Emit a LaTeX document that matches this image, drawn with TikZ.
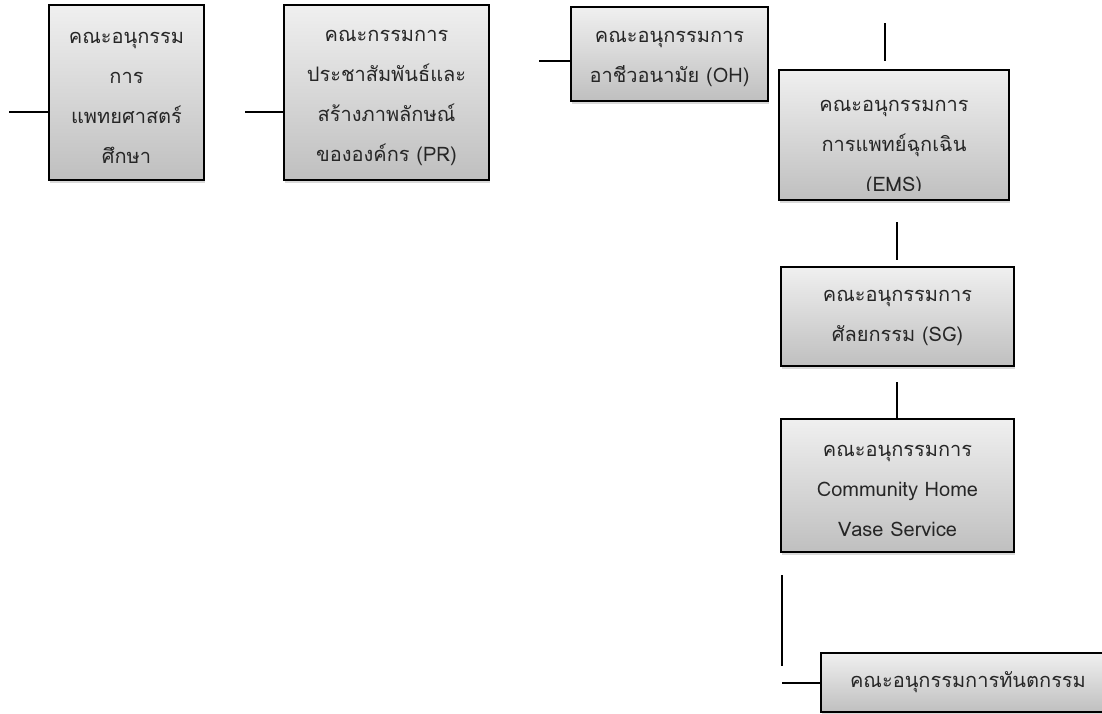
\documentclass[tikz,border=0pt]{standalone}
\usepackage{fontspec}
\newfontfamily\thaifont[Script=Thai]{Loma}
\usetikzlibrary{shadows}
\tikzset{
  unit/.style={draw=black,line width=1.6pt,inner sep=0pt,top color=gray!12,bottom color=gray!50,
    drop shadow={shadow xshift=1pt,shadow yshift=-3pt,opacity=0.3}},
  unittext/.style={align=center,text=black!85,font=\thaifont\fontsize{20}{40}\selectfont,yshift=-5pt},
  link/.style={line width=2.2pt,draw=black}
}
\begin{document}
\begin{tikzpicture}[x=1pt,y=-1pt]
  \useasboundingbox (0,0) rectangle (1102,713);
  \clip (0,0) rectangle (1102,713);

  % top row
  \node[unit,minimum width=155pt,minimum height=175pt] (med) at (126.5,92.5) {};
  \node[unittext] (medT) at (med) {คณะอนุกรรม\\การ\\แพทยศาสตร์\\ศึกษา};
  \node[unit,minimum width=205pt,minimum height=175pt] (pr) at (386.5,92.5) {};
  \node[unittext] (prT) at (pr) {คณะกรรมการ\\ประชาสัมพันธ์และ\\สร้างภาพลักษณ์\\ขององค์กร (PR)};
  \node[unit,minimum width=197pt,minimum height=94pt] (oh) at (669.5,54) {};
  \node[unittext] (ohT) at (oh) {คณะอนุกรรมการ\\อาชีวอนามัย (OH)};

  % right column
  \node[unit,minimum width=230pt,minimum height=130pt] (ems) at (894,135) {};
  \begin{scope}
    \clip (ems.north west) rectangle ([yshift=10pt]ems.south east);
    \node[unittext,yshift=-8pt] (emsT) at (ems) {คณะอนุกรรมการ\\การแพทย์ฉุกเฉิน\\(EMS)};
  \end{scope}
  \node[unit,minimum width=233pt,minimum height=99pt] (sg) at (897.5,316.5) {};
  \node[unittext,yshift=4pt] (sgT) at (sg) {คณะอนุกรรมการ\\ศัลยกรรม (SG)};
  \node[unit,minimum width=233pt,minimum height=133pt] (chv) at (897.5,485.5) {};
  \node[unittext] (chvT) at (chv) {คณะอนุกรรมการ\\Community Home\\Vase Service};
  \node[unit,minimum width=294pt,minimum height=59pt] (dent) at (968,682.5) {};
  \node[unittext,yshift=5pt] (dentT) at (dent) {คณะอนุกรรมการทันตกรรม};

  % connectors
  \coordinate (medL) at (9,112);
  \coordinate (prL) at (245,112);
  \coordinate (ohL) at (539,61);
  \draw[link] (medL) -- (medL -| med.west);
  \draw[link] (prL) -- (prL -| pr.west);
  \draw[link] (ohL) -- (ohL -| oh.west);
  \coordinate (emsA) at (885,23);
  \coordinate (emsB) at (885,61);
  \draw[link] (emsA) -- (emsB);
  \coordinate (sgA) at (897,222);
  \coordinate (sgB) at (897,260);
  \draw[link] (sgA) -- (sgB);
  \coordinate (chvA) at (897,382);
  \draw[link] (chvA) -- (chvA |- chv.north);
  \coordinate (dentA) at (782,575);
  \coordinate (dentB) at (782,666);
  \draw[link] (dentA) -- (dentB);
  \coordinate (dentL) at (782,683);
  \draw[link] (dentL) -- (dentL -| dent.west);
\end{tikzpicture}
\end{document}
